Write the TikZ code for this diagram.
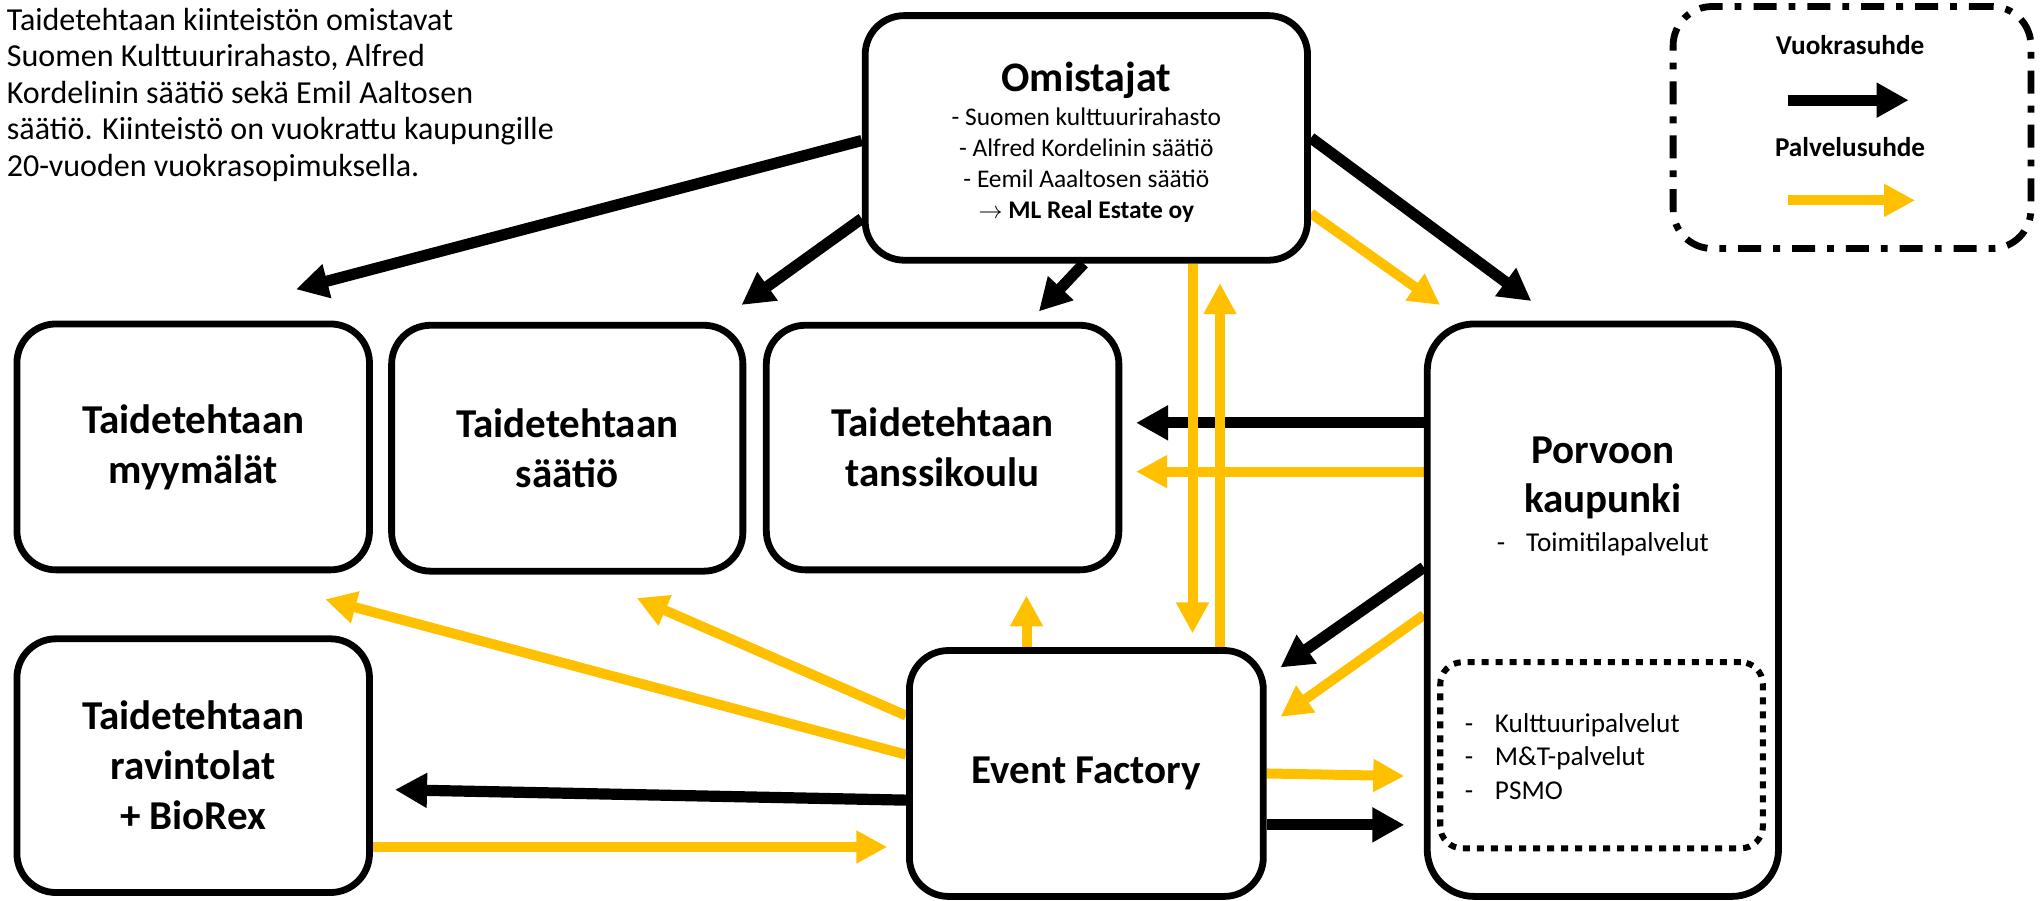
\documentclass[tikz,border=0pt]{standalone}
\usepackage{fontspec}
\setmainfont{Carlito}
\usetikzlibrary{arrows.meta,calc}
\definecolor{gold}{HTML}{FFC000}
\pgfdeclarelayer{bg}
\pgfsetlayers{bg,main}
\newcommand\myTitle{\fontsize{20.5pt}{25pt}\selectfont\bfseries}
\newcommand\mySmall{\fontsize{12.7pt}{15.4pt}\selectfont}
\newcommand\myMid{\fontsize{13.6pt}{16.6pt}\selectfont}
\newcommand\myNote{\fontsize{16pt}{18.2pt}\selectfont}
\newcommand\myLeg{\fontsize{13.6pt}{16pt}\selectfont\bfseries}
\begin{document}
\begin{tikzpicture}[x=0.65pt,y=-0.65pt,
  box/.style={draw=black, line width=3.4pt, fill=white, rounded corners=19.5pt, inner sep=0pt, align=center, font=\myTitle},
  blk/.style={draw=black, line width=5.6pt, -{Triangle[length=16pt,width=16.5pt]}},
  ylw/.style={draw=gold, line width=5pt, -{Triangle[length=15.5pt,width=15.5pt]}},
  lbl/.style={inner sep=0pt, align=center}]
\useasboundingbox (0,0) rectangle (1568,692.5);

% boxes
\node[box, minimum width=221pt, minimum height=122.2pt] (own) at (835,106) {};
\node[box, minimum width=176.15pt, minimum height=122.85pt] (mym) at (148.5,343.5) {Taidetehtaan\\myymälät};
\node[box, minimum width=175.5pt, minimum height=122.85pt] (saa) at (436,344.5) {Taidetehtaan\\säätiö};
\node[box, minimum width=176.15pt, minimum height=122.2pt] (tan) at (724.5,344) {Taidetehtaan\\tanssikoulu};
\node[box, rounded corners=23.4pt, minimum width=175.5pt, minimum height=286pt] (por) at (1232,469) {};
\node[box, minimum width=176.15pt, minimum height=126.75pt] (rav) at (148.5,588.5) {Taidetehtaan\\ravintolat\\+ BioRex};
\node[box, minimum width=176.8pt, minimum height=122.85pt] (ef) at (835,594.5) {Event Factory};
\node[draw=black, line width=3pt, dash pattern=on 3.5pt off 3.5pt, rounded corners=11pt, minimum width=161.2pt, minimum height=92.95pt, inner sep=0pt] (inner) at (1231,580.5) {};
\node[draw=black, line width=3.4pt, dash pattern=on 11.5pt off 6pt on 3.4pt off 6pt, rounded corners=19.5pt, minimum width=178.75pt, minimum height=120.9pt, inner sep=0pt] (leg) at (1423.5,98) {};

% texts
\node[lbl, anchor=north, font=\mySmall] (ownt) at ($(own.north)+(0,38)$)
  {{\fontsize{21pt}{25pt}\selectfont\bfseries Omistajat}\\[1.8pt]
   - Suomen kulttuurirahasto\\
   - Alfred Kordelinin säätiö\\
   - Eemil Aaaltosen säätiö\\
   {\bfseries$\rightarrow$ ML Real Estate oy}};
\node[lbl, anchor=north, font=\myMid] (port) at ($(por.north)+(0,89)$)
  {{\myTitle Porvoon}\\[8pt]{\myTitle kaupunki}\\[3pt]
   -\hspace{10.5pt}Toimitilapalvelut};
\node[lbl, anchor=west, align=left, font=\myMid] (innt) at ($(inner.west)+(21,1)$)
  {\makebox[15pt][l]{-}Kulttuuripalvelut\\
   \makebox[15pt][l]{-}M\&T-palvelut\\
   \makebox[15pt][l]{-}PSMO};
\node[anchor=north west, align=left, inner sep=0pt, font=\myNote] (note) at (5,6)
  {Taidetehtaan kiinteistön omistavat\\
   Suomen Kulttuurirahasto, Alfred\\
   Kordelinin säätiö sekä Emil Aaltosen\\
   säätiö. Kiinteistö on vuokrattu kaupungille\\
   20-vuoden vuokrasopimuksella.};

% legend
\node[inner sep=0pt, font=\myLeg] (legv) at ($(leg.center)+(-1.5,-63.4)$) {Vuokrasuhde};
\node[inner sep=0pt, font=\myLeg] (legp) at ($(leg.center)+(-1.5,15)$) {Palvelusuhde};
\coordinate (lb1) at ($(leg.center)+(-49.5,-21)$);
\coordinate (lb2) at ($(leg.center)+(43.5,-21)$);
\coordinate (ly1) at ($(leg.center)+(-49.5,56)$);
\coordinate (ly2) at ($(leg.center)+(48.5,56)$);
\draw[blk] (lb1) -- (lb2);
\draw[ylw] (ly1) -- (ly2);

\begin{pgfonlayer}{bg}
% black: rental relations
\draw[blk] ($(own.west)+(0,2)$) -- ($(mym.north)+(79,-24)$);
\draw[blk] ($(own.west)+(0,62)$) -- ($(saa.north)+(134,-13)$);
\draw[blk] ($(own.south)+(-2,0)$) -- ($(tan.north)+(74,-8)$);
\draw[blk] (own.east) -- ($(por.north)+(-55,-15)$);
\draw[blk] ($(por.west)+(0,-144)$) -- ($(tan.east)+(10.6,-19)$);
\draw[blk] ($(por.west)+(0,-33)$) -- ($(ef.east)+(10.6,-81.5)$);
\draw[blk] ($(ef.west)+(0,20.5)$) -- ($(rav.east)+(17,18.5)$);
\draw[blk] ($(ef.east)+(0,39.5)$) -- ($(por.west)+(-15,165)$);
% yellow: service relations
\draw[ylw] ($(own.east)+(0,58)$) -- ($(por.north)+(-125,-12)$);
\draw[ylw] ($(own.south)+(81.6,0)$) -- ($(ef.north)+(81.6,-10.5)$);
\draw[ylw] ($(ef.north)+(102.7,0)$) -- ($(own.south)+(102.7,15)$);
\draw[ylw] ($(por.west)+(0,-106.5)$) -- ($(tan.east)+(10.6,18.5)$);
\draw[ylw] ($(por.west)+(0,3.7)$) -- ($(ef.east)+(10.6,-43.5)$);
\draw[ylw] ($(ef.west)+(0,-44.5)$) -- ($(saa.south)+(53.4,18)$);
\draw[ylw] ($(ef.west)+(0,-14.5)$) -- ($(mym.south)+(101.5,20)$);
\draw[ylw] ($(ef.north)+(-46,0)$) -- ($(tan.south)+(64.5,17)$);
\draw[ylw] (ef.east) -- ($(por.west)+(-15,127.5)$);
\draw[ylw] ($(rav.east)+(0,62.5)$) -- ($(ef.west)+(-14.4,56.5)$);
\end{pgfonlayer}
\end{tikzpicture}
\end{document}
